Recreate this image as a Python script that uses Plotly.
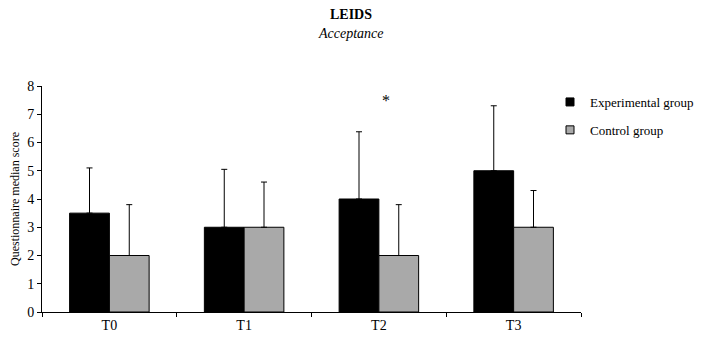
import plotly.graph_objects as go

categories = ["T0", "T1", "T2", "T3"]
exp_values = [3.5, 3.0, 4.0, 5.0]
exp_err = [1.6, 2.05, 2.38, 2.3]
ctrl_values = [2.0, 3.0, 2.0, 3.0]
ctrl_err = [1.8, 1.6, 1.8, 1.3]
y_ticks = [0, 1, 2, 3, 4, 5, 6, 7, 8]

FONT = "Liberation Serif"
EXP_COLOR = "#000000"
CTRL_COLOR = "#a9a9a9"

fig = go.Figure()
fig.add_trace(go.Bar(
    x=categories, y=exp_values, name="Experimental group",
    marker=dict(color=EXP_COLOR, line=dict(color="#000000", width=1)),
    error_y=dict(type="data", array=exp_err, arrayminus=[0]*4, symmetric=False,
                 color="#000000", thickness=1, width=3),
    showlegend=False,
))
fig.add_trace(go.Bar(
    x=categories, y=ctrl_values, name="Control group",
    marker=dict(color=CTRL_COLOR, line=dict(color="#000000", width=1)),
    error_y=dict(type="data", array=ctrl_err, arrayminus=[0]*4, symmetric=False,
                 color="#000000", thickness=1, width=3),
    showlegend=False,
))
# legend entries with small square swatches
for name, col, grp in [("Experimental group", EXP_COLOR, "a"), ("Control group", CTRL_COLOR, "b")]:
    fig.add_trace(go.Scatter(
        x=[None], y=[None], mode="markers", name=name, legendgroup=grp,
        marker=dict(symbol="square", size=8, color=col, line=dict(color="black", width=1)),
    ))

# page body has an 8px margin, so the figure is 8px smaller than the window
fig.update_layout(
    width=694, height=332,
    margin=dict(l=34, r=121, t=78, b=28, autoexpand=False),
    paper_bgcolor="white", plot_bgcolor="white",
    barmode="group", bargap=0.41, bargroupgap=0,
    font=dict(family=FONT, size=14, color="black"),
    showlegend=True,
    legend=dict(x=(550-42)/539, xanchor="left", y=0.9956, yanchor="top",
                font=dict(family=FONT, size=13), tracegroupgap=8, itemwidth=30,
                bgcolor="rgba(0,0,0,0)"),
    xaxis=dict(showline=True, linecolor="black", linewidth=1, ticks="outside",
               tickson="boundaries", ticklen=4, tickcolor="black",
               showgrid=False, tickfont=dict(family=FONT, size=14)),
    yaxis=dict(range=[0, 8], tickvals=y_ticks, showline=True, linecolor="black",
               linewidth=1, ticks="outside", ticklen=4, tickcolor="black",
               showgrid=False, zeroline=False,
               title=dict(text="Questionnaire median score", standoff=13,
                          font=dict(family=FONT, size=12)),
               tickfont=dict(family=FONT, size=14)),
    annotations=[
        dict(text="<b>LEIDS</b>", xref="paper", yref="paper", x=(351-42)/539,
             y=(312.3-14)/226.3, xanchor="center", yanchor="middle",
             showarrow=False, font=dict(family=FONT, size=14)),
        dict(text="<i>Acceptance</i>", xref="paper", yref="paper", x=(351-42)/539,
             y=(312.3-33)/226.3, xanchor="center", yanchor="middle",
             showarrow=False, font=dict(family=FONT, size=14)),
        dict(text="*", x="T2", y=7.5, xref="x", yref="y", xshift=7,
             showarrow=False, font=dict(family=FONT, size=16, color="black")),
    ],
)

fig.write_html("out.html")
